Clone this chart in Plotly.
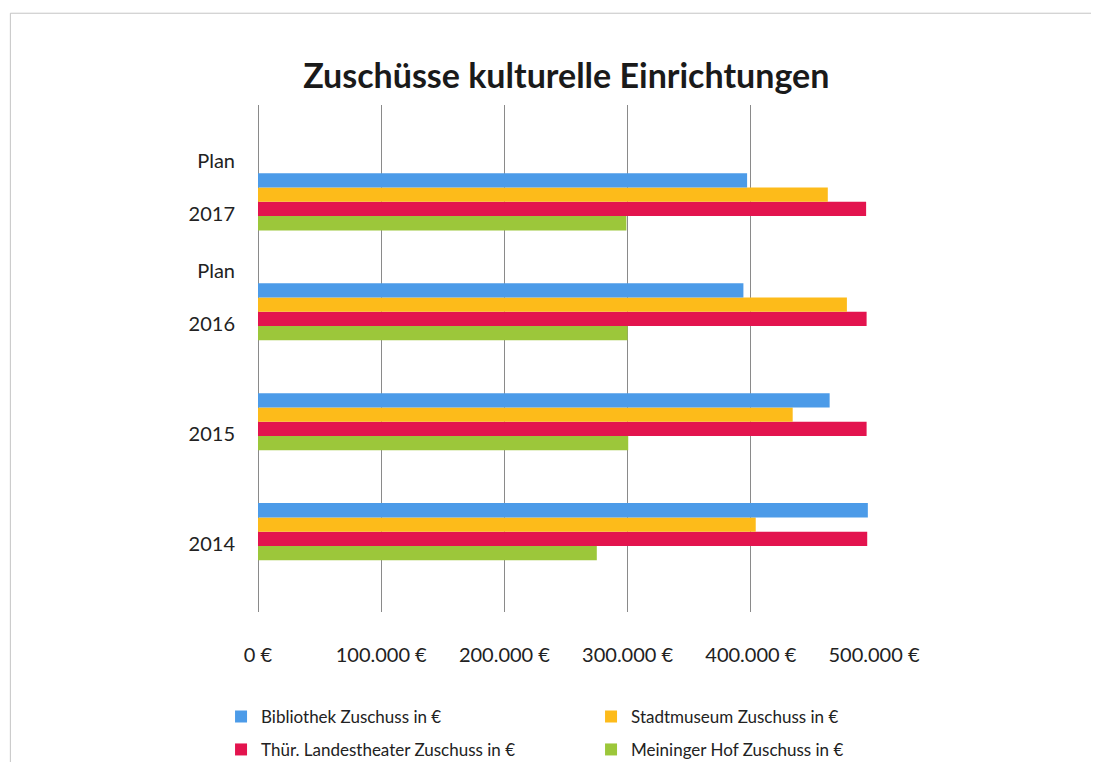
import plotly.graph_objects as go

# Kategorien (von unten nach oben) und Zuschüsse in €
jahre = ["2014", "2015", "2016", "2017"]
plan = [False, False, True, True]

bibliothek = [495000, 464000, 394000, 397000]
stadtmuseum = [404000, 434000, 478000, 462500]
landestheater = [494500, 494000, 494000, 493600]
meininger_hof = [275000, 300500, 300000, 299000]

serien = [
    ("Bibliothek Zuschuss in €", bibliothek, "#4C9BE8", "legend"),
    ("Stadtmuseum Zuschuss in €", stadtmuseum, "#FDBB1A", "legend"),
    ("Thür. Landestheater Zuschuss in €", landestheater, "#E3144E", "legend2"),
    ("Meininger Hof Zuschuss in €", meininger_hof, "#9CC73A", "legend2"),
]

pos = list(range(len(jahre)))
font = "Lato, 'Open Sans', sans-serif"

fig = go.Figure()
# reversed so Bibliothek sits on top of each group
for name, vals, col, leg in reversed(serien):
    fig.add_trace(go.Bar(
        y=pos, x=vals, name=name, orientation="h",
        marker=dict(color=col, line=dict(width=0)),
        legend=leg,
    ))

# tick labels: year slightly below group centre, "Plan" above
tickvals, ticktext = [], []
for p, j, pl in zip(pos, jahre, plan):
    tickvals.append(p - 0.11)
    ticktext.append(j)
    if pl:
        tickvals.append(p + 0.375)
        ticktext.append("Plan")

leg_style = dict(orientation="h", x=-0.06, xanchor="left", yanchor="middle",
                 traceorder="reversed", entrywidth=325, entrywidthmode="pixels",
                 itemwidth=30, font=dict(size=17), bgcolor="rgba(0,0,0,0)",
                 borderwidth=0)

# page body adds 8px offset, so margins are shifted by 8;
# figure is a bit taller than the window so the legend doesn't push the plot
H = 790
fig.update_layout(
    width=1099, height=H,
    margin=dict(l=250, r=233, t=97, b=H - 97 - 507),
    paper_bgcolor="white", plot_bgcolor="white",
    barmode="group", bargap=0.48, bargroupgap=0,
    font=dict(family=font, color="#222", size=20),
    title=dict(text="<b>Zuschüsse kulturelle Einrichtungen</b>",
               x=0.508, xanchor="center", y=1 - 68 / H, yanchor="middle",
               font=dict(size=34, color="#1a1a1a")),
    separators=",.",
    xaxis=dict(range=[0, 500000], dtick=100000, tickformat=",d", ticksuffix=" €",
               showgrid=True, gridcolor="#8a8a8a", gridwidth=1,
               zeroline=True, zerolinecolor="#8a8a8a", zerolinewidth=1,
               showline=False, ticks="", ticklabelstandoff=29,
               tickfont=dict(size=20)),
    yaxis=dict(range=[-0.73, 3.88], tickmode="array", tickvals=tickvals, ticktext=ticktext,
               showgrid=False, zeroline=False, showline=False, ticks="",
               ticklabelstandoff=22, tickfont=dict(size=20)),
    legend=dict(leg_style, y=-0.207),
    legend2=dict(leg_style, y=-0.272),
    showlegend=True,
)

# faint frame of the scanned chart
fig.add_shape(type="rect", xref="paper", yref="paper",
              x0=-0.402, x1=1.357, y0=-0.4, y1=1.181,
              line=dict(color="#c4c4c4", width=1), fillcolor="rgba(0,0,0,0)", layer="below")

fig.write_html("out.html")
